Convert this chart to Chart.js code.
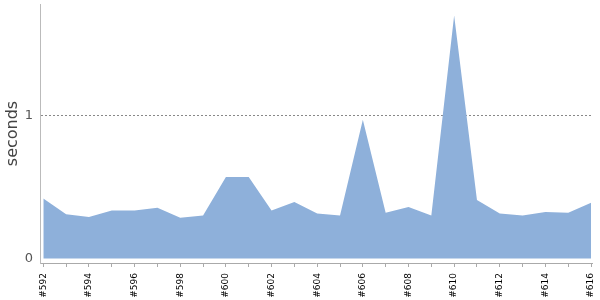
<!DOCTYPE html>
<html>
<head>
<meta charset="utf-8">
<script src="https://cdn.jsdelivr.net/npm/chart.js@4"></script>
<style>
  html, body { margin: 0; padding: 0; background: #fff; }
  #wrap { width: 600px; height: 300px; position: relative; }
</style>
</head>
<body>
<div id="wrap"><canvas id="c"></canvas></div>
<script>
const builds = ['#592','#593','#594','#595','#596','#597','#598','#599','#600','#601','#602','#603','#604','#605','#606','#607','#608','#609','#610','#611','#612','#613','#614','#615','#616'];
const seconds = [0.42,0.31,0.29,0.335,0.335,0.355,0.285,0.30,0.57,0.57,0.335,0.395,0.315,0.30,0.97,0.32,0.36,0.30,1.70,0.41,0.315,0.30,0.325,0.32,0.39];
const yTicks = [0, 1];
const yTitle = 'seconds';

const points = seconds.map((v, i) => ({ x: i, y: v }));

new Chart(document.getElementById('c'), {
  type: 'line',
  data: {
    datasets: [{
      data: points,
      fill: 'origin',
      backgroundColor: '#8eb0da',
      borderWidth: 0,
      pointRadius: 0,
      tension: 0
    }]
  },
  options: {
    responsive: true,
    maintainAspectRatio: false,
    animation: false,
    layout: { padding: { top: 4, right: 8, left: 0, bottom: 0 } },
    plugins: { legend: { display: false }, tooltip: { enabled: false } },
    scales: {
      x: {
        type: 'linear',
        min: -0.145,
        max: 24.04,
        afterBuildTicks: s => { s.ticks = builds.map((_, i) => ({ value: i })); },
        afterFit: s => { s.height = 37; s.paddingLeft = 0; s.paddingRight = 0; },
        ticks: {
          autoSkip: false,
          minRotation: 90,
          maxRotation: 90,
          padding: 6,
          color: '#000',
          font: { family: 'DejaVu Sans', size: 9 },
          callback: v => (v % 2 === 0 ? builds[v] : '')
        },
        grid: { drawOnChartArea: false, drawTicks: true, tickLength: 4, color: '#aaa', tickColor: '#aaa' },
        border: { color: '#aaa', width: 1 }
      },
      y: {
        min: -0.0315,
        max: 1.78,
        z: 1,
        afterBuildTicks: s => { s.ticks = yTicks.map(v => ({ value: v })); },
        afterFit: s => { s.width = 40; s.paddingTop = 0; s.paddingBottom = 0; },
        ticks: {
          padding: 7,
          color: '#555',
          font: { family: 'DejaVu Sans', size: 13 }
        },
        grid: {
          drawTicks: false,
          color: ctx => (ctx.tick && ctx.tick.value === 1 ? '#888' : 'rgba(0,0,0,0)'),
          lineWidth: 1
        },
        border: { color: '#bbb', width: 1, dash: [2, 2] },
        title: {
          display: true,
          text: yTitle,
          color: '#444',
          padding: { top: 3, bottom: 0 },
          font: { family: 'DejaVu Sans', size: 16 }
        }
      }
    }
  }
});
</script>
</body>
</html>
